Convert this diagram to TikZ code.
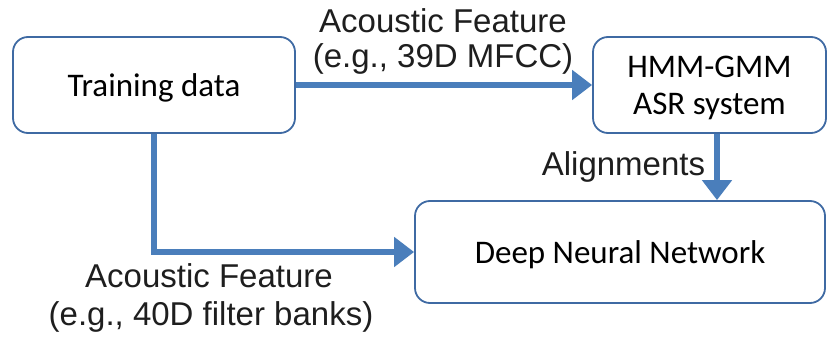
\documentclass[tikz,border=0pt]{standalone}
\usepackage{fontspec}
\setmainfont{Liberation Sans}
\newfontfamily\boxfont{Carlito}
\usetikzlibrary{arrows.meta}
\definecolor{flowblue}{HTML}{4A7EBB}
\definecolor{edgeblue}{HTML}{3F6AA3}
\definecolor{inkgray}{HTML}{1E1E1E}
\begin{document}
\begin{tikzpicture}[x=1pt,y=-1pt,
  stage/.style={draw=edgeblue, line width=1.8pt, rounded corners=15pt, fill=white,
    inner sep=0pt, text depth=0pt, align=center, text=black,
    font=\boxfont\fontsize{33}{37}\selectfont},
  flow/.style={draw=flowblue, line width=5.5pt,
    -{Triangle[length=20pt,width=29pt]}, color=flowblue},
  caption/.style={anchor=base, inner sep=0pt, text=inkgray,
    font=\fontsize{33}{37}\selectfont}]
  \useasboundingbox (0,0) rectangle (827,340);

  % processing stages
  \node[stage, minimum width=282pt, minimum height=96pt] (train) at (154,85) {Training data};
  \node[stage, minimum width=233pt, minimum height=96pt] (hmm) at (709.5,85) {HMM-GMM\\ASR system};
  \node[stage, minimum width=410pt, minimum height=102pt] (dnn) at (620,252) {Deep Neural Network};

  % data flow
  \draw[flow] (train.east) -- (hmm.west);
  \draw[flow] (train.south) |- (dnn.west);
  \draw[flow] ([xshift=7.5pt]hmm.south) -- ([xshift=7.5pt]hmm.south |- dnn.north);

  % edge captions
  \node[caption] (mfcc1) at (443,32) {Acoustic Feature};
  \node[caption] (mfcc2) at (443,67) {(e.g., 39D MFCC)};
  \node[caption] (align) at (623.5,175) {Alignments};
  \node[caption] (fbank1) at (209,287) {Acoustic Feature};
  \node[caption] (fbank2) at (211,325) {(e.g., 40D filter banks)};
\end{tikzpicture}
\end{document}
